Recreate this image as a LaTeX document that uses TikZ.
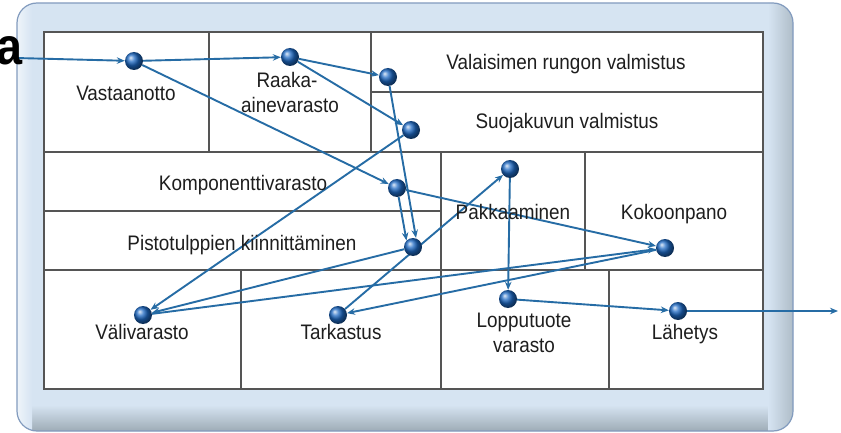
\documentclass[tikz,border=0pt]{standalone}
\usepackage{fontspec}
\setmainfont{Liberation Sans}[FakeStretch=0.9]
\usetikzlibrary{arrows.meta}
\pgfdeclarelayer{bg}
\pgfdeclarelayer{edges}
\pgfsetlayers{bg,edges,main}
\definecolor{frameblue}{RGB}{214,228,242}
\definecolor{frameedge}{RGB}{130,155,190}
\definecolor{frameshade}{RGB}{158,172,182}
\definecolor{gridgray}{RGB}{85,85,85}
\definecolor{flowblue}{RGB}{38,108,165}
\definecolor{dotblue}{RGB}{30,105,195}
\definecolor{txt}{RGB}{30,30,30}
\begin{document}
\begin{tikzpicture}[x=1pt,y=-1pt,
  dot/.style={circle,minimum size=18pt,inner sep=0pt,shading=ball,ball color=dotblue},
  flow/.style={draw=flowblue,line width=1.9pt,-{Stealth[length=8pt,width=6.5pt]}},
  lbl/.style={font=\fontsize{21}{25}\selectfont,text=txt,inner sep=0pt,anchor=base},
  gridline/.style={draw=gridgray,line width=1.3pt}]
\useasboundingbox (0,0) rectangle (841,433);

\begin{pgfonlayer}{bg}
  \fill[frameblue,rounded corners=20pt] (17,3) rectangle (793,431);
  \begin{scope}
    \clip[rounded corners=20pt] (17,3) rectangle (793,431);
    \shade[top color=frameblue,bottom color=frameshade] (17,405) rectangle (793,431);
    \shade[left color=frameblue,right color=frameshade!70!frameblue] (768,3) rectangle (793,431);
    \shade[left color=white!60!frameblue,right color=frameblue] (17,3) rectangle (32,431);
  \end{scope}
  \draw[frameedge,line width=1.2pt,rounded corners=20pt] (17,3) rectangle (793,431);
  % table
  \fill[white] (44,32) rectangle (763,389);
  \draw[gridline] (44,32) rectangle (763,389);
  \draw[gridline] (44,152) -- (763,152);
  \draw[gridline] (44,270) -- (763,270);
  \draw[gridline] (371,92) -- (763,92);
  \draw[gridline] (44,211) -- (441,211);
  \draw[gridline] (209,32) -- (209,152);
  \draw[gridline] (371,32) -- (371,152);
  \draw[gridline] (441,152) -- (441,389);
  \draw[gridline] (585,152) -- (585,270);
  \draw[gridline] (241,270) -- (241,389);
  \draw[gridline] (609,270) -- (609,389);
\end{pgfonlayer}

% labels
\node[lbl] (t-vast) at (126,101) {Vastaanotto};
\node[lbl] (t-raaka1) at (287,88) {Raaka-};
\node[lbl] (t-raaka2) at (290,113) {ainevarasto};
\node[lbl] (t-runko) at (566,70) {Valaisimen rungon valmistus};
\node[lbl] (t-suoja) at (567,129) {Suojakuvun valmistus};
\node[lbl] (t-komp) at (243,190) {Komponenttivarasto};
\node[lbl] (t-pisto) at (242,250) {Pistotulppien kiinnittäminen};
\node[lbl] (t-pakk) at (513,219) {Pakkaaminen};
\node[lbl] (t-kok) at (674,219) {Kokoonpano};
\node[lbl] (t-vali) at (142,339) {Välivarasto};
\node[lbl] (t-tark) at (341,339) {Tarkastus};
\node[lbl] (t-lopp1) at (524,327) {Lopputuote};
\node[lbl] (t-lopp2) at (524,352) {varasto};
\node[lbl] (t-lah) at (685,339) {Lähetys};
\node[font=\fontsize{52}{52}\selectfont\bfseries,anchor=base east,inner sep=0pt] (t-a) at (23,65) {a};

% dots
\node[dot] (vast) at (134,61) {};
\node[dot] (raaka) at (290,57) {};
\node[dot] (runko) at (388,77) {};
\node[dot] (suoja) at (411,130) {};
\node[dot] (komp) at (397,188) {};
\node[dot] (pisto) at (413,247) {};
\node[dot] (pakk) at (510,169) {};
\node[dot] (kok) at (665,248) {};
\node[dot] (vali) at (143,315) {};
\node[dot] (tark) at (338,315) {};
\node[dot] (lopp) at (508,299) {};
\node[dot] (lah) at (678,311) {};
\coordinate (in) at (16,58);
\coordinate (out) at (838,311);

\begin{pgfonlayer}{edges}
  \draw[flow] (in) -- (vast);
  \draw[flow] (vast) -- (raaka);
  \draw[flow] (vast) -- (komp);
  \draw[flow] (raaka) -- (runko);
  \draw[flow] (raaka) -- (suoja);
  \draw[flow] (runko) -- ([xshift=3pt]pisto.north);
  \draw[flow] (komp) -- (pisto.north west);
  \draw[flow] (suoja) -- (vali);
  \draw[flow] (komp) -- (kok);
  \draw[flow] (pisto) -- (vali);
  \draw[flow] (vali) -- (kok);
  \draw[flow] (kok) -- (tark);
  \draw[flow] (tark) -- (pakk);
  \draw[flow] (pakk) -- (lopp);
  \draw[flow] (lopp) -- (lah);
  \draw[flow] (lah) -- (out);
\end{pgfonlayer}
\end{tikzpicture}
\end{document}
